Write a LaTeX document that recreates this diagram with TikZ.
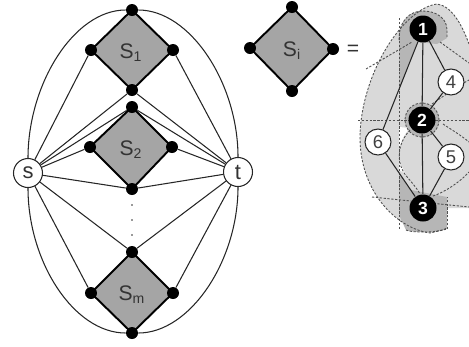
\documentclass[tikz,border=0pt]{standalone}
\usepackage{fontspec}
\setmainfont{Liberation Sans}
\usetikzlibrary{backgrounds}
\definecolor{dgray}{RGB}{165,165,165}
\definecolor{lfill}{RGB}{217,217,217}
\definecolor{mfill}{RGB}{182,182,182}
\definecolor{dline}{RGB}{80,80,80}
\begin{document}
\begin{tikzpicture}[x=0.02cm,y=-0.02cm,
  dot/.style={circle,fill=black,inner sep=0pt,minimum size=2.4mm},
  smalldot/.style={circle,fill=black!80,inner sep=0pt,minimum size=0.35mm},
  term/.style={circle,draw=black!85,line width=0.6pt,fill=white,inner sep=0pt,minimum size=5.8mm,font=\fontsize{12.5}{12.5}\selectfont,text=black!80},
  bnode/.style={circle,fill=black,inner sep=0pt,minimum size=5.4mm,font=\fontsize{10}{10}\selectfont\bfseries,text=white},
  wnode/.style={circle,draw=black!85,line width=0.6pt,fill=white,inner sep=0pt,minimum size=5.2mm,font=\fontsize{10.5}{10.5}\selectfont,text=black!75},
  edge/.style={line width=0.6pt,draw=black!85},
  dia/.style={fill=dgray,draw=black,line width=1.1pt,line join=round},
  reg/.style={draw=dline,line width=0.5pt,dash pattern=on 1.3pt off 0.9pt},
  lab/.style={font=\fontsize{12}{12}\selectfont,text=black!80}
]
\useasboundingbox (0,0) rectangle (469,346);

% ---- left graph nodes ----
\node[term] (s) at (28,173) {s};
\node[term] (t) at (238,172) {t};
\node[dot] (d1t) at (132,10) {};
\node[dot] (d1l) at (91,50) {};
\node[dot] (d1r) at (173,50) {};
\node[dot] (d1b) at (132,90) {};
\node[dot] (d2t) at (132,107) {};
\node[dot] (d2l) at (90,147) {};
\node[dot] (d2r) at (172,147) {};
\node[dot] (d2b) at (132,189) {};
\node[dot] (dmt) at (132,252) {};
\node[dot] (dml) at (91,293) {};
\node[dot] (dmr) at (173,293) {};
\node[dot] (dmb) at (132,333) {};
\node[smalldot] (v1) at (132,205) {};
\node[smalldot] (v2) at (132,220) {};
\node[smalldot] (v3) at (132,235) {};

% ---- S_i ----
\node[dot] (sit) at (292,7) {};
\node[dot] (sil) at (250,48) {};
\node[dot] (sir) at (333,49) {};
\node[dot] (sib) at (292,91) {};

% ---- right graph nodes ----
\node[bnode] (n1) at (423,29) {1};
\node[bnode] (n2) at (422,120) {2};
\node[bnode] (n3) at (423,208) {3};
\node[wnode] (n4) at (451,82) {4};
\node[wnode] (n5) at (451,157) {5};
\node[wnode] (n6) at (378,142) {6};

\begin{scope}[on background layer]
  \clip (0,0) rectangle (469,346);
  % regions
  \fill[lfill] (437,4) .. controls (405,8) and (362,70) .. (360,135) .. controls (359,190) and (395,228) .. (430,233) -- (447,229) -- (447,208) -- (469,208) -- (469,44) .. controls (462,25) and (452,6) .. (437,4) -- cycle;
  \fill[white] (399,127) -- (410,128) .. controls (397,142) and (396,160) .. (406,174) -- (399,170) -- cycle;
  \fill[mfill] (399,40) .. controls (399,20) and (410,11) .. (423,11) .. controls (436,11) and (447,18) .. (447,30) -- (447,38) -- (437,44) -- (417,42) -- (399,91) -- cycle;
  \fill[mfill] (399,173) -- (411,190) -- (447,197) -- (447,228) .. controls (440,233) and (412,233) .. (406,230) -- (399,215) -- cycle;
  \fill[mfill] (422,120) circle[radius=17];
  % dashed borders
  \draw[reg] (469,44) .. controls (462,25) and (452,6) .. (437,4) .. controls (405,8) and (362,70) .. (360,135) .. controls (359,190) and (395,228) .. (430,233) -- (447,229);
  \draw[reg] (447,229) -- (447,197);
  \draw[reg] (399,18) -- (399,230);
  \draw[reg] (358,120) -- (469,120);
  \draw[reg] (366,69) -- (412,42);
  \draw[reg] (372,197) -- (469,207);
  \draw[reg] (440,42) -- (469,63);
  \draw[reg] (432,104) .. controls (445,95) and (458,86) .. (469,80);
  \draw[reg] (443,124) .. controls (452,130) and (462,136) .. (469,142);
  \draw[reg] (433,196) .. controls (445,192) and (460,182) .. (469,172);
  \draw[reg] (410,130) .. controls (396,145) and (396,165) .. (408,178) .. controls (414,185) and (418,190) .. (420,194);
  \draw[reg] (422,120) circle[radius=17];
  \draw[reg] (399,40) .. controls (399,20) and (410,11) .. (423,11) .. controls (436,11) and (447,18) .. (447,30) -- (447,38);
  \draw[reg] (406,230) .. controls (412,233) and (440,233) .. (447,228);
  % diamonds
  \draw[dia] (d1t.center) -- (d1r.center) -- (d1b.center) -- (d1l.center) -- cycle;
  \draw[dia] (d2t.center) -- (d2r.center) -- (d2b.center) -- (d2l.center) -- cycle;
  \draw[dia] (dmt.center) -- (dmr.center) -- (dmb.center) -- (dml.center) -- cycle;
  \draw[dia] (sit.center) -- (sir.center) -- (sib.center) -- (sil.center) -- cycle;
\end{scope}

% labels
\node[lab] (l1) at (131,53) {S\textsubscript{1}};
\node[lab] (l2) at (131,150) {S\textsubscript{2}};
\node[lab] (lm) at (132,295) {S\textsubscript{m}};
\node[lab] (li) at (292,51) {S\textsubscript{i}};
\node[lab] (eq) at (353,50) {=};

% outer ellipse arcs
\draw[edge] (s) .. controls +(0,-89) and +(-58,0) .. (d1t);
\draw[edge] (t) .. controls +(0,-89) and +(58,0) .. (d1t);
\draw[edge] (s) .. controls +(0,89) and +(-58,0) .. (dmb);
\draw[edge] (t) .. controls +(0,89) and +(58,0) .. (dmb);
% straight edges
\foreach \v in {d1l,d1b,d2t,d2l,d2b,dmt,dml} \draw[edge] (s) -- (\v);
\foreach \v in {d1r,d1b,d2t,d2r,d2b,dmt,dmr} \draw[edge] (t) -- (\v);

% right graph edges
\draw[edge] (n1) -- (n2);
\draw[edge] (n2) -- (n3);
\draw[edge] (n1) -- (n4);
\draw[edge] (n4) -- (n2);
\draw[edge] (n2) -- (n5);
\draw[edge] (n5) -- (n3);
\draw[edge] (n1) -- (n6);
\draw[edge] (n6) -- (n3);
\end{tikzpicture}
\end{document}
